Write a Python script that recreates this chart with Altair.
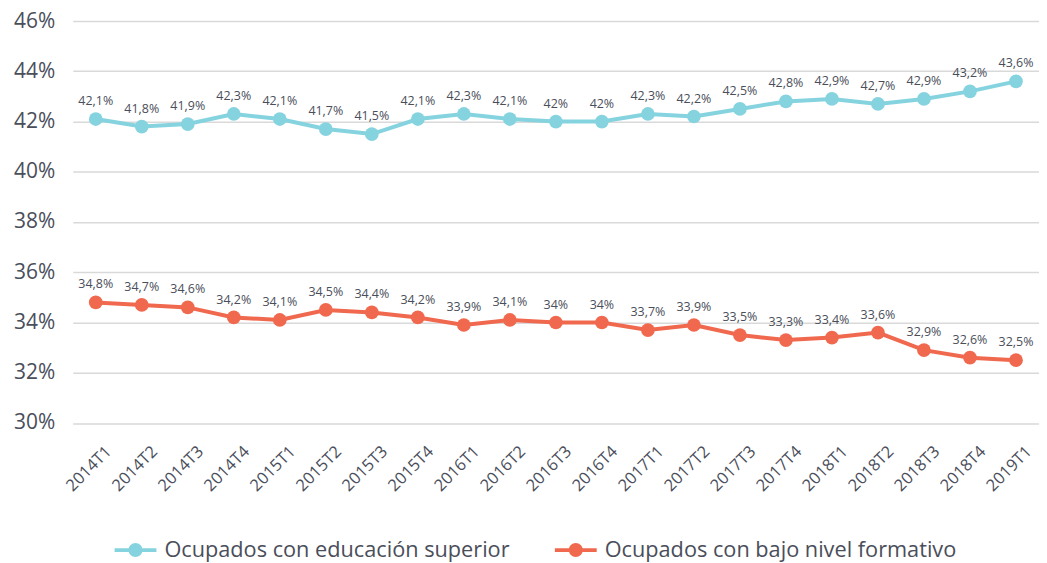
import altair as alt
import pandas as pd

periodos = ["2014T1","2014T2","2014T3","2014T4","2015T1","2015T2","2015T3","2015T4",
            "2016T1","2016T2","2016T3","2016T4","2017T1","2017T2","2017T3","2017T4",
            "2018T1","2018T2","2018T3","2018T4","2019T1"]
serie_sup = "Ocupados con educación superior"
serie_bajo = "Ocupados con bajo nivel formativo"
valores_sup = [42.1, 41.8, 41.9, 42.3, 42.1, 41.7, 41.5, 42.1, 42.3, 42.1, 42.0,
               42.0, 42.3, 42.2, 42.5, 42.8, 42.9, 42.7, 42.9, 43.2, 43.6]
valores_bajo = [34.8, 34.7, 34.6, 34.2, 34.1, 34.5, 34.4, 34.2, 33.9, 34.1, 34.0,
                34.0, 33.7, 33.9, 33.5, 33.3, 33.4, 33.6, 32.9, 32.6, 32.5]
y_ticks = [30, 32, 34, 36, 38, 40, 42, 44, 46]

def etiqueta(v):
    s = f"{v:.1f}".rstrip("0").rstrip(".")
    return s.replace(".", ",") + "%"

rows = []
for serie, vals in [(serie_sup, valores_sup), (serie_bajo, valores_bajo)]:
    for p, v in zip(periodos, vals):
        rows.append({"periodo": p, "serie": serie, "valor": v, "etiqueta": etiqueta(v)})
df = pd.DataFrame(rows)

FONT = "Open Sans"
TXT = "#4a4e5a"

sym = ("M-1.5,-0.14L-0.45,-0.14L-0.45,0.14L-1.5,0.14Z "
       "M0.45,-0.14L1.5,-0.14L1.5,0.14L0.45,0.14Z "
       "M0.5,0A0.5,0.5,0,1,1,-0.5,0A0.5,0.5,0,1,1,0.5,0Z")

color = alt.Color(
    "serie:N",
    scale=alt.Scale(domain=[serie_sup, serie_bajo], range=["#86D3E0", "#F0694F"]),
    legend=alt.Legend(
        title=None, orient="none", direction="horizontal",
        legendX=49, legendY=517,
        symbolType=sym, symbolSize=784, symbolStrokeWidth=0, symbolOpacity=1,
        labelFont=FONT, labelFontSize=21.8, labelColor=TXT, labelOffset=15,
        columnPadding=45, labelLimit=500,
    ),
)

x = alt.X("periodo:N", sort=periodos,
          scale=alt.Scale(paddingOuter=0.5, paddingInner=0),
          axis=alt.Axis(title=None, labelAngle=-45, labelFont=FONT, labelFontSize=16.5,
                        labelColor=TXT, domain=False, ticks=False, grid=False,
                        labelPadding=20, labelOffset=7))
y = alt.Y("valor:Q", scale=alt.Scale(domain=[30, 46], nice=False, zero=False),
          axis=alt.Axis(title=None, values=y_ticks, labelExpr="datum.value + '%'",
                        labelFont=FONT, labelFontSize=21, labelColor=TXT,
                        domain=False, ticks=False, gridColor="#d9d9d9", gridWidth=1.5,
                        labelPadding=18))

base = alt.Chart(df).encode(x=x, y=y)
lines = base.mark_line(strokeWidth=4).encode(color=color)
pts = base.mark_point(filled=True, size=190, opacity=1).encode(color=color)
texts = base.mark_text(baseline="bottom", dy=-11, font=FONT, fontSize=12.5,
                       color=TXT).encode(text="etiqueta:N")

chart = alt.layer(lines, pts, texts).properties(
    width=970, height=403.5,
    autosize=alt.AutoSizeParams(type="none"),
    padding={"left": 65, "top": 12, "right": 0, "bottom": 145},
).configure_view(stroke=None)

chart.save("out.html", embed_options={"renderer": "svg", "actions": False})
